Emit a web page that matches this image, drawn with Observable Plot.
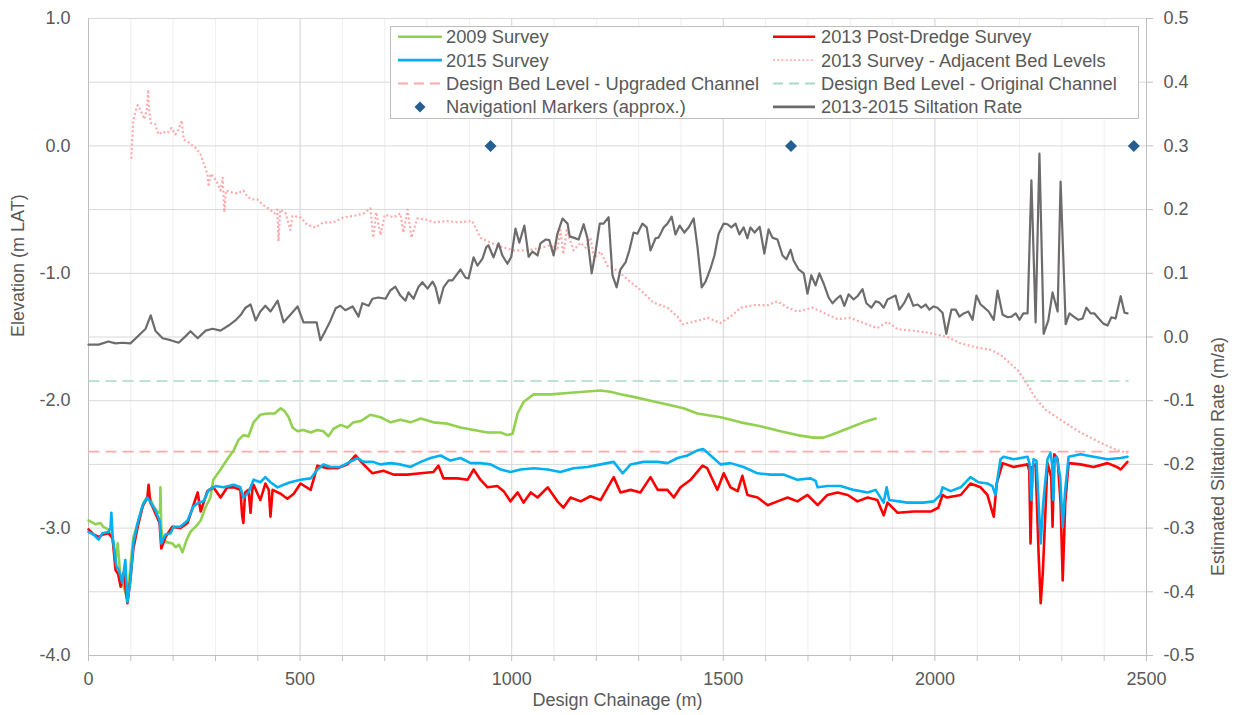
<!DOCTYPE html>
<html><head><meta charset="utf-8">
<script src="https://cdn.jsdelivr.net/npm/d3@7"></script>
<script src="https://cdn.jsdelivr.net/npm/@observablehq/plot@0.6"></script>
<style>
body{margin:0;background:#fff;}
#wrap{position:relative;width:1240px;height:715px;font-family:"Liberation Sans",Arial,sans-serif;}
#legend{position:absolute;left:390px;top:26px;}
</style></head><body><div id="wrap"></div>
<script>
// ---- data: [design chainage (m), elevation (m LAT)] ----
const survey2009 = [[0,-2.94],[17,-2.97],[28,-2.96],[35,-2.99],[47,-3.01],[57,-3.09],[64,-3.25],[69,-3.12],[76,-3.41],[83,-3.46],[92,-3.56],[99,-3.30],[106,-3.07],[118,-2.94],[130,-2.80],[142,-2.74],[154,-2.83],[165,-2.88],[169,-2.88],[170,-2.68],[172,-3.00],[175,-3.07],[184,-3.11],[198,-3.12],[206,-3.15],[214,-3.13],[222,-3.19],[232,-3.09],[241,-3.03],[258,-2.97],[265,-2.94],[276,-2.84],[288,-2.76],[295,-2.62],[312,-2.54],[328,-2.46],[343,-2.39],[354,-2.31],[366,-2.27],[378,-2.28],[390,-2.17],[406,-2.11],[423,-2.10],[440,-2.10],[454,-2.06],[463,-2.08],[473,-2.13],[482,-2.21],[494,-2.24],[508,-2.23],[525,-2.25],[541,-2.23],[555,-2.24],[567,-2.28],[579,-2.22],[596,-2.19],[612,-2.21],[626,-2.17],[643,-2.16],[666,-2.11],[690,-2.13],[714,-2.17],[737,-2.15],[761,-2.17],[785,-2.14],[815,-2.17],[848,-2.18],[879,-2.21],[910,-2.23],[943,-2.25],[974,-2.25],[990,-2.27],[1002,-2.26],[1014,-2.10],[1028,-2.01],[1052,-1.95],[1092,-1.95],[1132,-1.94],[1170,-1.93],[1210,-1.92],[1233,-1.93],[1257,-1.95],[1288,-1.97],[1328,-2.00],[1368,-2.03],[1406,-2.06],[1439,-2.10],[1494,-2.13],[1541,-2.17],[1588,-2.20],[1635,-2.24],[1675,-2.27],[1713,-2.29],[1737,-2.29],[1770,-2.25],[1800,-2.21],[1831,-2.17],[1860,-2.14]];

const survey2013 = [[0,-3.01],[12,-3.05],[24,-3.07],[35,-3.05],[47,-3.04],[57,-3.08],[64,-3.33],[70,-3.36],[76,-3.46],[83,-3.35],[92,-3.59],[99,-3.40],[106,-3.16],[117,-2.98],[128,-2.83],[139,-2.76],[142,-2.66],[146,-2.80],[151,-2.83],[160,-2.90],[168,-2.96],[172,-3.16],[182,-3.07],[198,-2.99],[217,-3.00],[234,-2.96],[248,-2.82],[258,-2.72],[265,-2.87],[281,-2.71],[295,-2.68],[312,-2.76],[328,-2.68],[343,-2.68],[359,-2.70],[363,-2.90],[366,-2.96],[370,-2.72],[378,-2.70],[383,-2.88],[387,-2.70],[390,-2.66],[406,-2.78],[418,-2.65],[426,-2.70],[430,-2.91],[435,-2.70],[454,-2.73],[470,-2.77],[485,-2.73],[501,-2.65],[525,-2.70],[541,-2.51],[565,-2.53],[588,-2.53],[612,-2.50],[631,-2.43],[650,-2.50],[671,-2.57],[697,-2.55],[721,-2.58],[754,-2.58],[785,-2.57],[815,-2.56],[827,-2.51],[839,-2.61],[872,-2.61],[896,-2.62],[910,-2.54],[926,-2.62],[943,-2.68],[966,-2.67],[981,-2.71],[997,-2.79],[1014,-2.72],[1028,-2.80],[1045,-2.72],[1061,-2.76],[1085,-2.68],[1108,-2.79],[1122,-2.84],[1139,-2.76],[1163,-2.79],[1186,-2.75],[1210,-2.78],[1241,-2.60],[1257,-2.72],[1281,-2.70],[1304,-2.72],[1328,-2.60],[1345,-2.70],[1368,-2.70],[1383,-2.76],[1399,-2.68],[1423,-2.62],[1451,-2.51],[1462,-2.53],[1486,-2.70],[1501,-2.57],[1517,-2.68],[1534,-2.71],[1545,-2.59],[1557,-2.74],[1581,-2.76],[1605,-2.82],[1628,-2.79],[1652,-2.76],[1675,-2.79],[1699,-2.74],[1723,-2.82],[1746,-2.74],[1770,-2.72],[1794,-2.74],[1817,-2.79],[1841,-2.76],[1864,-2.78],[1879,-2.90],[1888,-2.80],[1912,-2.88],[1950,-2.87],[1990,-2.87],[2008,-2.84],[2018,-2.74],[2028,-2.76],[2061,-2.74],[2084,-2.65],[2108,-2.68],[2124,-2.74],[2139,-2.91],[2146,-2.65],[2160,-2.49],[2186,-2.52],[2219,-2.50],[2223,-2.55],[2226,-3.12],[2230,-2.52],[2238,-2.50],[2245,-3.20],[2250,-3.59],[2255,-3.35],[2266,-2.49],[2275,-2.60],[2278,-2.99],[2282,-2.42],[2290,-2.46],[2297,-2.80],[2302,-3.41],[2308,-2.80],[2316,-2.49],[2344,-2.50],[2375,-2.52],[2408,-2.49],[2430,-2.52],[2439,-2.54],[2455,-2.48]];

const survey2015 = [[0,-3.03],[12,-3.05],[24,-3.09],[33,-3.04],[47,-3.03],[52,-3.00],[54,-2.88],[57,-3.07],[66,-3.30],[72,-3.33],[80,-3.43],[87,-3.25],[92,-3.58],[99,-3.41],[106,-3.12],[116,-2.96],[128,-2.82],[139,-2.76],[147,-2.80],[158,-2.86],[168,-2.94],[172,-3.12],[182,-3.05],[194,-3.04],[201,-2.99],[217,-2.99],[234,-2.94],[248,-2.83],[260,-2.80],[272,-2.79],[284,-2.70],[300,-2.67],[319,-2.68],[343,-2.66],[359,-2.68],[366,-2.76],[378,-2.72],[390,-2.62],[406,-2.64],[418,-2.60],[430,-2.64],[447,-2.68],[461,-2.66],[477,-2.64],[501,-2.62],[525,-2.61],[541,-2.54],[555,-2.50],[572,-2.52],[595,-2.52],[612,-2.49],[636,-2.45],[650,-2.48],[673,-2.48],[690,-2.50],[714,-2.49],[737,-2.50],[761,-2.52],[785,-2.48],[808,-2.45],[832,-2.43],[855,-2.47],[879,-2.45],[903,-2.49],[926,-2.49],[950,-2.50],[974,-2.54],[997,-2.56],[1021,-2.54],[1052,-2.53],[1085,-2.54],[1115,-2.56],[1146,-2.53],[1179,-2.52],[1210,-2.50],[1241,-2.48],[1262,-2.57],[1281,-2.50],[1311,-2.48],[1345,-2.48],[1368,-2.49],[1392,-2.45],[1415,-2.43],[1439,-2.39],[1453,-2.38],[1470,-2.43],[1494,-2.50],[1517,-2.49],[1548,-2.52],[1581,-2.57],[1612,-2.58],[1642,-2.58],[1675,-2.62],[1706,-2.61],[1718,-2.63],[1723,-2.68],[1746,-2.67],[1777,-2.67],[1808,-2.70],[1841,-2.72],[1860,-2.70],[1879,-2.80],[1886,-2.68],[1892,-2.78],[1935,-2.80],[1973,-2.80],[1997,-2.79],[2013,-2.74],[2018,-2.68],[2037,-2.71],[2061,-2.68],[2084,-2.60],[2103,-2.64],[2124,-2.65],[2136,-2.67],[2143,-2.74],[2148,-2.61],[2155,-2.46],[2162,-2.44],[2186,-2.46],[2219,-2.44],[2224,-2.50],[2228,-2.78],[2233,-2.46],[2240,-2.47],[2245,-2.80],[2250,-3.12],[2256,-2.80],[2266,-2.46],[2273,-2.41],[2277,-2.50],[2280,-2.78],[2283,-2.45],[2288,-2.44],[2296,-2.60],[2302,-2.99],[2308,-2.70],[2316,-2.44],[2344,-2.42],[2375,-2.44],[2408,-2.46],[2439,-2.45],[2455,-2.44]];

const adjacentBed2013 = [[101,-0.10],[103,0.02],[106,0.20],[111,0.27],[116,0.32],[123,0.28],[128,0.24],[132,0.21],[138,0.29],[141,0.44],[143,0.30],[147,0.18],[158,0.17],[165,0.09],[175,0.11],[186,0.10],[196,0.14],[205,0.09],[213,0.13],[220,0.20],[225,0.05],[236,0.03],[255,-0.02],[265,-0.07],[276,-0.17],[281,-0.23],[284,-0.32],[288,-0.22],[295,-0.24],[303,-0.28],[312,-0.35],[317,-0.25],[321,-0.52],[325,-0.35],[343,-0.37],[354,-0.37],[366,-0.35],[376,-0.40],[387,-0.42],[399,-0.42],[411,-0.46],[425,-0.49],[440,-0.53],[446,-0.50],[449,-0.75],[453,-0.50],[466,-0.53],[477,-0.66],[482,-0.55],[501,-0.56],[517,-0.62],[536,-0.64],[555,-0.60],[579,-0.60],[603,-0.56],[626,-0.55],[650,-0.53],[666,-0.49],[673,-0.72],[680,-0.52],[690,-0.70],[700,-0.54],[721,-0.56],[737,-0.53],[744,-0.68],[754,-0.50],[763,-0.72],[777,-0.57],[801,-0.58],[815,-0.60],[848,-0.59],[874,-0.60],[907,-0.59],[926,-0.72],[950,-0.76],[974,-0.79],[1004,-0.82],[1037,-0.82],[1068,-0.80],[1092,-0.78],[1108,-0.82],[1115,-0.66],[1122,-0.85],[1130,-0.66],[1146,-0.82],[1163,-0.76],[1175,-0.80],[1186,-0.72],[1195,-0.88],[1210,-0.83],[1226,-0.94],[1250,-0.98],[1274,-1.05],[1304,-1.13],[1335,-1.23],[1368,-1.27],[1392,-1.34],[1404,-1.40],[1430,-1.38],[1463,-1.35],[1494,-1.39],[1517,-1.34],[1541,-1.27],[1571,-1.25],[1605,-1.25],[1628,-1.22],[1652,-1.27],[1675,-1.30],[1711,-1.27],[1737,-1.31],[1770,-1.36],[1800,-1.35],[1831,-1.39],[1864,-1.43],[1888,-1.38],[1912,-1.44],[1950,-1.45],[1990,-1.47],[2030,-1.50],[2061,-1.55],[2096,-1.58],[2131,-1.60],[2155,-1.64],[2179,-1.71],[2198,-1.77],[2214,-1.85],[2238,-1.98],[2261,-2.07],[2297,-2.15],[2344,-2.25],[2391,-2.33],[2432,-2.39],[2455,-2.41]];

// [design chainage (m), siltation rate (m/a)] -- right axis
const siltation = [[0,-0.012],[24,-0.012],[47,-0.007],[64,-0.010],[80,-0.009],[99,-0.010],[118,0.002],[135,0.013],[147,0.034],[158,0.010],[175,-0.002],[194,-0.005],[213,-0.009],[229,0.001],[241,0.009],[258,-0.002],[277,0.010],[293,0.013],[312,0.010],[331,0.018],[347,0.026],[359,0.034],[371,0.046],[383,0.051],[395,0.026],[406,0.040],[418,0.049],[430,0.040],[447,0.057],[461,0.023],[477,0.035],[494,0.048],[508,0.023],[525,0.023],[539,0.023],[548,-0.005],[560,0.010],[572,0.026],[584,0.045],[595,0.049],[607,0.042],[624,0.048],[638,0.032],[647,0.053],[662,0.049],[671,0.060],[685,0.062],[702,0.060],[713,0.073],[725,0.079],[737,0.065],[749,0.057],[756,0.070],[768,0.060],[780,0.079],[789,0.086],[801,0.076],[813,0.087],[820,0.078],[829,0.053],[839,0.078],[851,0.089],[860,0.089],[879,0.106],[891,0.093],[898,0.092],[910,0.125],[919,0.112],[931,0.123],[940,0.141],[945,0.144],[957,0.125],[969,0.147],[978,0.128],[990,0.115],[999,0.126],[1009,0.170],[1018,0.148],[1030,0.175],[1040,0.126],[1049,0.134],[1061,0.128],[1068,0.147],[1080,0.153],[1089,0.152],[1099,0.128],[1108,0.162],[1120,0.186],[1132,0.178],[1137,0.158],[1146,0.156],[1158,0.153],[1170,0.177],[1179,0.155],[1189,0.100],[1198,0.133],[1208,0.178],[1217,0.178],[1229,0.188],[1238,0.097],[1248,0.078],[1257,0.106],[1269,0.117],[1278,0.136],[1288,0.164],[1297,0.162],[1309,0.178],[1319,0.172],[1328,0.136],[1340,0.155],[1347,0.156],[1359,0.172],[1368,0.178],[1378,0.189],[1387,0.161],[1397,0.175],[1408,0.164],[1418,0.172],[1430,0.186],[1439,0.141],[1449,0.078],[1458,0.087],[1470,0.108],[1479,0.128],[1489,0.162],[1501,0.178],[1510,0.177],[1519,0.172],[1529,0.178],[1538,0.161],[1548,0.172],[1557,0.155],[1564,0.172],[1574,0.164],[1586,0.173],[1597,0.131],[1607,0.169],[1616,0.156],[1628,0.153],[1640,0.128],[1649,0.122],[1659,0.137],[1666,0.120],[1678,0.106],[1690,0.100],[1699,0.068],[1708,0.097],[1718,0.081],[1727,0.100],[1737,0.084],[1749,0.062],[1758,0.053],[1768,0.060],[1777,0.065],[1786,0.049],[1796,0.067],[1808,0.059],[1817,0.064],[1829,0.075],[1838,0.053],[1850,0.046],[1860,0.056],[1869,0.054],[1879,0.046],[1888,0.059],[1907,0.065],[1916,0.043],[1928,0.054],[1938,0.068],[1949,0.049],[1959,0.051],[1968,0.046],[1978,0.051],[1987,0.043],[1997,0.048],[2006,0.046],[2018,0.038],[2027,0.005],[2039,0.043],[2049,0.043],[2058,0.032],[2068,0.037],[2079,0.040],[2089,0.027],[2098,0.065],[2108,0.051],[2117,0.046],[2127,0.040],[2139,0.027],[2148,0.073],[2160,0.035],[2172,0.031],[2181,0.032],[2191,0.037],[2200,0.027],[2209,0.037],[2219,0.037],[2228,0.246],[2238,0.023],[2247,0.288],[2257,0.005],[2268,0.026],[2278,0.070],[2290,0.040],[2297,0.244],[2309,0.020],[2318,0.037],[2328,0.032],[2339,0.027],[2349,0.029],[2358,0.046],[2368,0.037],[2377,0.037],[2387,0.029],[2398,0.021],[2408,0.018],[2417,0.031],[2427,0.029],[2439,0.064],[2448,0.038],[2455,0.037]];

const designChainage = [0, 2458];
const designUpgraded = -2.40;
const designOriginal = -1.845;
const navMarkerChainage = [950, 1660, 2470];
const navMarkerElevation = 0.0;

const xTicksMajor = [0, 500, 1000, 1500, 2000, 2500];
const yTicksLeft = [-4, -3, -2, -1, 0, 1];
const yGrid = [-4, -3.5, -3, -2.5, -2, -1.5, -1, -0.5, 0, 0.5, 1];
const xMinor = d3.range(0, 2501, 100);

const legendItems = [
  {label:"2009 Survey", col:0, row:0, type:"line", color:"#92d050"},
  {label:"2015 Survey", col:0, row:1, type:"line", color:"#00b0f0"},
  {label:"Design Bed Level - Upgraded Channel", col:0, row:2, type:"dash", color:"#ffa8a8"},
  {label:"Navigationl Markers (approx.)", col:0, row:3, type:"diamond", color:"#255e91"},
  {label:"2013 Post-Dredge Survey", col:1, row:0, type:"line", color:"#ff0000"},
  {label:"2013 Survey - Adjacent Bed Levels", col:1, row:1, type:"dot", color:"#ffb0b0"},
  {label:"Design Bed Level - Original Channel", col:1, row:2, type:"dash", color:"#a6dcc2"},
  {label:"2013-2015 Siltation Rate", col:1, row:3, type:"line", color:"#6e6b6b"}
];

// ---- build ----
const toRows = arr => arr.map(([x, y]) => ({x, y}));
const siltToElev = s => 5 * s - 1.5; // right axis -0.5..0.5 -> left axis -4..1
const siltRows = siltation.map(([x, s]) => ({x, y: siltToElev(s)}));
const upgradedRows = designChainage.map(x => ({x, y: designUpgraded}));
const originalRows = designChainage.map(x => ({x, y: designOriginal}));
const navRows = navMarkerChainage.map(x => ({x, y: navMarkerElevation}));

const FONT = '"Liberation Sans", Arial, sans-serif';
const TXT = "#595959";

const chart = Plot.plot({
  width: 1240, height: 715,
  marginLeft: 88, marginRight: 94, marginTop: 18, marginBottom: 60,
  x: {domain: [0, 2500], label: null},
  y: {domain: [-4, 1], label: null},
  style: {fontFamily: FONT, fontSize: "18px", color: TXT, background: "#fff"},
  marks: [
    Plot.gridX(xMinor, {stroke: "#efefef", strokeOpacity: 1}),
    Plot.gridX(xTicksMajor, {stroke: "#d9d9d9", strokeOpacity: 1}),
    Plot.gridY(yGrid, {stroke: "#d9d9d9", strokeOpacity: 1}),
    Plot.ruleX([0, 2500], {stroke: "#bfbfbf"}),
    Plot.ruleY([-4], {stroke: "#bfbfbf"}),
    Plot.axisX(xMinor, {tickSize: 6, tickFormat: () => "", stroke: "#bfbfbf", label: null}),
    Plot.axisX(xTicksMajor, {tickSize: 0, tickPadding: 17, tickFormat: d => String(d), fill: TXT, label: null}),
    Plot.axisY(yTicksLeft, {anchor: "left", tickSize: 0, tickPadding: 18, tickFormat: d => d.toFixed(1), fill: TXT, label: null}),
    Plot.axisY(yGrid, {anchor: "right", tickSize: 6, tickPadding: 11, stroke: "#bfbfbf", fill: TXT,
      tickFormat: d => ((d + 1.5) / 5).toFixed(1), label: null}),
    Plot.text(["Elevation (m LAT)"], {frameAnchor: "left", dx: -70, rotate: -90, fill: TXT}),
    Plot.text(["Estimated Siltation Rate (m/a)"], {frameAnchor: "right", dx: 72, rotate: -90, fill: TXT}),
    Plot.text(["Design Chainage (m)"], {frameAnchor: "bottom", dy: 50, fill: TXT}),
    Plot.line(originalRows, {x: "x", y: "y", stroke: "#a6dcc2", strokeWidth: 1.6, strokeDasharray: "11 6", strokeLinecap: "butt"}),
    Plot.line(upgradedRows, {x: "x", y: "y", stroke: "#ffa8a8", strokeWidth: 1.6, strokeDasharray: "11 6", strokeLinecap: "butt"}),
    Plot.line(toRows(survey2009), {x: "x", y: "y", stroke: "#92d050", strokeWidth: 2.6}),
    Plot.line(toRows(survey2013), {x: "x", y: "y", stroke: "#ff0000", strokeWidth: 2.6}),
    Plot.line(toRows(survey2015), {x: "x", y: "y", stroke: "#00b0f0", strokeWidth: 2.6}),
    Plot.line(toRows(adjacentBed2013), {x: "x", y: "y", stroke: "#ffaaaa", strokeWidth: 2.2, strokeDasharray: "2 2.4", strokeLinecap: "butt"}),
    Plot.line(siltRows, {x: "x", y: "y", stroke: "#6e6b6b", strokeWidth: 2.2}),
    Plot.dot(navRows, {x: "x", y: "y", symbol: "diamond2", r: 5.4, fill: "#255e91", stroke: "none"})
  ]
});
document.getElementById("wrap").appendChild(chart);

// ---- legend (overlay inside plot area) ----
const LW = 748, LH = 92;
const lg = d3.select("#wrap").append("svg").attr("id", "legend")
  .attr("width", LW + 1).attr("height", LH + 1)
  .style("font-family", FONT).style("font-size", "18.3px");
lg.append("rect").attr("x", 0.5).attr("y", 0.5).attr("width", LW).attr("height", LH)
  .attr("fill", "#fff").attr("stroke", "#bfbfbf");
const rowY = r => 10.7 + r * 23.4;
const colSw = [[8, 52], [383, 425]];
const colTx = [56, 431];
for (const it of legendItems) {
  const y = rowY(it.row), [x0, x1] = colSw[it.col];
  if (it.type === "diamond") {
    const cx = (x0 + x1) / 2, h = 5.5;
    lg.append("path").attr("d", `M${cx},${y-h}L${cx+h},${y}L${cx},${y+h}L${cx-h},${y}Z`).attr("fill", it.color);
  } else {
    const l = lg.append("line").attr("x1", x0).attr("x2", x1).attr("y1", y).attr("y2", y)
      .attr("stroke", it.color).attr("stroke-width", it.type === "line" ? 2.6 : 1.8);
    if (it.type === "dash") l.attr("stroke-dasharray", "10 6");
    if (it.type === "dot") l.attr("stroke-dasharray", "2 2.2");
  }
  lg.append("text").attr("x", colTx[it.col]).attr("y", y).attr("dy", "0.36em")
    .attr("fill", TXT).text(it.label);
}
</script>
</body></html>
